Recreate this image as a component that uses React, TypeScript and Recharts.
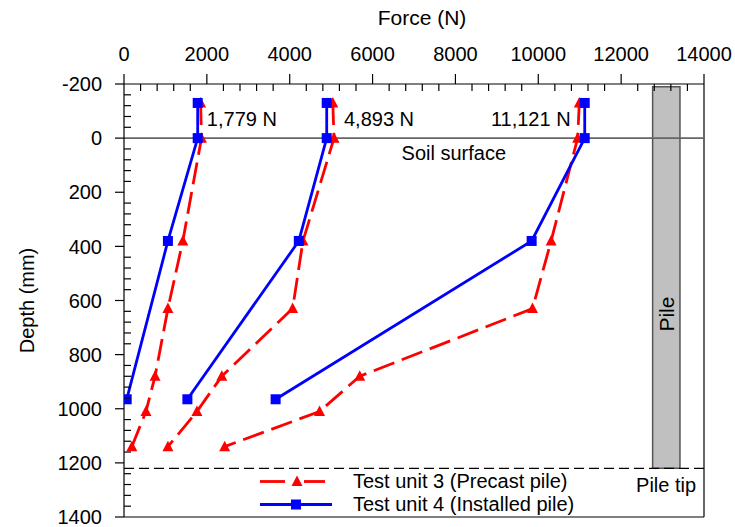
import React from 'react';
import {
  ScatterChart,
  Scatter,
  XAxis,
  YAxis,
  ReferenceLine,
  ReferenceArea,
  ReferenceDot,
  Legend,
} from 'recharts';

const FONT = '"Liberation Sans", Arial, Helvetica, sans-serif';

// ---- data ----
const depthUnit3 = [-130, 0, 380, 630, 880, 1010, 1140];
const depthUnit4 = [-130, 0, 380, 965];

const unit3ForceLow = [1850, 1870, 1420, 1060, 750, 530, 190];
const unit3ForceMid = [5040, 5070, 4320, 4070, 2360, 1760, 1060];
const unit3ForceHigh = [10990, 10950, 10310, 9860, 5690, 4720, 2430];

const unit4ForceLow = [1779, 1779, 1060, 65];
const unit4ForceMid = [4893, 4893, 4220, 1530];
const unit4ForceHigh = [11121, 11121, 9840, 3660];

const forceMajorTicks = [0, 2000, 4000, 6000, 8000, 10000, 12000, 14000];
const forceMinorStep = 400;
const depthMajorTicks = [-200, 0, 200, 400, 600, 800, 1000, 1200, 1400];
const depthMinorStep = 40;

const loadLabels = [
  { text: '1,779 N', force: 2000, depth: -70, anchor: 'start' },
  { text: '4,893 N', force: 5310, depth: -70, anchor: 'start' },
  { text: '11,121 N', force: 10780, depth: -70, anchor: 'end' },
  { text: 'Soil surface', force: 6700, depth: 55, anchor: 'start' },
  { text: 'Pile tip', force: 12360, depth: 1282, anchor: 'start' },
];

const soilDepth = 0;
const pileTipDepth = 1220;
const pileTopDepth = -190;
const pileForceLeft = 12760;
const pileForceRight = 13420;

const seriesNames = ['Test unit 3 (Precast pile)', 'Test unit 4 (Installed pile)'];

// ---- helpers ----
const makeTicks = (lo: number, hi: number, step: number) => {
  const out: number[] = [];
  for (let v = lo; v <= hi; v += step) out.push(v);
  return out;
};
const forceTicks = makeTicks(0, 14000, forceMinorStep);
const depthTicks = makeTicks(-200, 1400, depthMinorStep);

const toPoints = (forces: number[], depths: number[]) =>
  forces.map((f, i) => ({ force: f, depth: depths[i] }));

const RED = '#ff0000';
const BLUE = '#0000ff';

const Triangle = (props: any) => {
  const { cx, cy } = props;
  if (cx == null || cy == null) return null;
  return (
    <polygon
      points={`${cx},${cy - 6} ${cx + 5.5},${cy + 4.5} ${cx - 5.5},${cy + 4.5}`}
      fill={RED}
    />
  );
};

const Square = (props: any) => {
  const { cx, cy } = props;
  if (cx == null || cy == null) return null;
  return <rect x={cx - 5} y={cy - 5} width={10} height={10} fill={BLUE} />;
};

const ForceTick = (props: any) => {
  const { x, y, payload } = props;
  const v = payload.value;
  if (forceMajorTicks.includes(v)) {
    return (
      <g>
        <line x1={x} y1={y} x2={x} y2={y - 10} stroke="#000" strokeWidth={1.2} />
        <text x={x} y={y - 23} textAnchor="middle" fontSize={20} fontFamily={FONT} fill="#000">
          {v}
        </text>
      </g>
    );
  }
  return <line x1={x} y1={y} x2={x} y2={y + 7} stroke="#000" strokeWidth={1.2} />;
};

const DepthTick = (props: any) => {
  const { x, y, payload } = props;
  const v = payload.value;
  if (depthMajorTicks.includes(v)) {
    return (
      <g>
        <line x1={x - 9} y1={y} x2={x} y2={y} stroke="#000" strokeWidth={1.2} />
        <text x={x - 22} y={y} dy="0.36em" textAnchor="end" fontSize={20} fontFamily={FONT} fill="#000">
          {v}
        </text>
      </g>
    );
  }
  return <line x1={x} y1={y} x2={x + 7} y2={y} stroke="#000" strokeWidth={1.2} />;
};

const textLabel = (text: string, anchor: string, rotate = false, fontSize = 20) => (p: any) => {
  const vb = p.viewBox || {};
  const cx = vb.x + (vb.width || 0) / 2;
  const cy = vb.y + (vb.height || 0) / 2;
  return (
    <text
      x={cx}
      y={cy}
      dy="0.36em"
      textAnchor={anchor as any}
      fontSize={fontSize}
      fontFamily={FONT}
      fill="#000"
      transform={rotate ? `rotate(-90 ${cx} ${cy})` : undefined}
    >
      {text}
    </text>
  );
};

const ForceTitle = (p: any) => {
  const vb = p.viewBox;
  return (
    <text x={vb.x + vb.width / 2 + 8} y={25} textAnchor="middle" fontSize={21} fontFamily={FONT} fill="#000">
      Force (N)
    </text>
  );
};

const DepthTitle = (p: any) => {
  const vb = p.viewBox;
  const cx = 27;
  const cy = vb.y + vb.height / 2;
  return (
    <text
      x={cx}
      y={cy}
      dy="0.36em"
      textAnchor="middle"
      fontSize={20}
      fontFamily={FONT}
      fill="#000"
      transform={`rotate(-90 ${cx} ${cy})`}
    >
      Depth (mm)
    </text>
  );
};

const LegendContent = () => (
  <div style={{ fontFamily: FONT, fontSize: 20, color: '#000', lineHeight: '23px' }}>
    <div style={{ display: 'flex', alignItems: 'center', height: 23, whiteSpace: 'nowrap' }}>
      <svg width={98} height={23} style={{ display: 'block' }}>
        <line x1={5} y1={11.5} x2={30} y2={11.5} stroke={RED} strokeWidth={2.8} />
        <Triangle cx={42} cy={11.5} />
        <line x1={49} y1={11.5} x2={70} y2={11.5} stroke={RED} strokeWidth={2.8} />
      </svg>
      <span>{seriesNames[0]}</span>
    </div>
    <div style={{ display: 'flex', alignItems: 'center', height: 23, whiteSpace: 'nowrap' }}>
      <svg width={98} height={23} style={{ display: 'block' }}>
        <line x1={5} y1={11.5} x2={77} y2={11.5} stroke={BLUE} strokeWidth={2.8} />
        <Square cx={41} cy={11.5} />
      </svg>
      <span>{seriesNames[1]}</span>
    </div>
  </div>
);

const redLine = { stroke: RED, strokeWidth: 2.8, strokeDasharray: '22 8' };
const blueLine = { stroke: BLUE, strokeWidth: 2.8 };

export default function App() {
  return (
    <div style={{ position: 'absolute', left: 0, top: 0, background: '#fff' }}>
      <ScatterChart width={735} height={527} margin={{ top: 0, right: 31, bottom: 10, left: 0 }}>
        <XAxis
          type="number"
          dataKey="force"
          orientation="top"
          domain={[0, 14000]}
          ticks={forceTicks}
          interval={0}
          height={84}
          tick={<ForceTick />}
          tickLine={false}
          tickSize={0}
          tickMargin={0}
          axisLine={{ stroke: '#000', strokeWidth: 1.2 }}
          allowDataOverflow
          label={{ content: ForceTitle }}
        />
        <YAxis
          type="number"
          dataKey="depth"
          reversed
          domain={[-200, 1400]}
          ticks={depthTicks}
          interval={0}
          width={124}
          tick={<DepthTick />}
          tickLine={false}
          tickSize={0}
          tickMargin={0}
          axisLine={{ stroke: '#000', strokeWidth: 1.2 }}
          allowDataOverflow
          label={{ content: DepthTitle }}
        />
        <ReferenceLine x={14000} stroke="#000" strokeWidth={1.2} />
        <ReferenceLine y={1400} stroke="#000" strokeWidth={1.2} />
        <ReferenceLine y={soilDepth} stroke="#666" strokeWidth={1.7} />
        <ReferenceLine y={pileTipDepth} stroke="#000" strokeWidth={1.2} strokeDasharray="10 5" />
        <ReferenceArea
          x1={pileForceLeft}
          x2={pileForceRight}
          y1={pileTopDepth}
          y2={pileTipDepth}
          fill="#c0c0c0"
          fillOpacity={1}
          stroke="#555"
          strokeWidth={1.5}
        />
        <ReferenceDot
          x={(pileForceLeft + pileForceRight) / 2}
          y={650}
          r={1}
          fill="none"
          stroke="none"
          label={textLabel('Pile', 'middle', true, 21)}
        />
        {loadLabels.map((l) => (
          <ReferenceDot
            key={l.text}
            x={l.force}
            y={l.depth}
            r={1}
            fill="none"
            stroke="none"
            label={textLabel(l.text, l.anchor)}
          />
        ))}
        <Scatter name={seriesNames[0]} data={toPoints(unit3ForceLow, depthUnit3)} line={redLine} lineType="joint" shape={<Triangle />} isAnimationActive={false} />
        <Scatter name={seriesNames[0]} data={toPoints(unit3ForceMid, depthUnit3)} line={redLine} lineType="joint" shape={<Triangle />} isAnimationActive={false} />
        <Scatter name={seriesNames[0]} data={toPoints(unit3ForceHigh, depthUnit3)} line={redLine} lineType="joint" shape={<Triangle />} isAnimationActive={false} />
        <Scatter name={seriesNames[1]} data={toPoints(unit4ForceLow, depthUnit4)} line={blueLine} lineType="joint" shape={<Square />} isAnimationActive={false} />
        <Scatter name={seriesNames[1]} data={toPoints(unit4ForceMid, depthUnit4)} line={blueLine} lineType="joint" shape={<Square />} isAnimationActive={false} />
        <Scatter name={seriesNames[1]} data={toPoints(unit4ForceHigh, depthUnit4)} line={blueLine} lineType="joint" shape={<Square />} isAnimationActive={false} />
        <Legend
          layout="vertical"
          align="center"
          verticalAlign="middle"
          content={LegendContent}
          wrapperStyle={{ left: 255, top: 470, width: 340, height: 46 }}
        />
      </ScatterChart>
    </div>
  );
}
